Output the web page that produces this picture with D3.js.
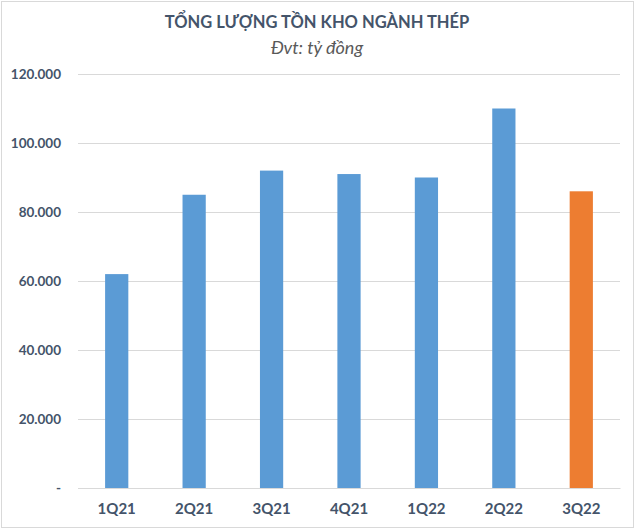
<!DOCTYPE html>
<html>
<head>
<meta charset="utf-8">
<script src="https://cdn.jsdelivr.net/npm/d3@7/dist/d3.min.js"></script>
<style>
  html, body { margin: 0; padding: 0; background: #fff; }
  svg { display: block; font-family: Lato, "Open Sans", sans-serif; }
</style>
</head>
<body>
<svg id="chart" width="635" height="529"></svg>
<script>
const quarters = ["1Q21", "2Q21", "3Q21", "4Q21", "1Q22", "2Q22", "3Q22"];
const inventory = [62000, 85000, 92000, 91000, 90000, 110000, 86000];
const highlightQuarter = "3Q22";
const yTicks = [0, 20000, 40000, 60000, 80000, 100000, 120000];

const width = 635;
const height = 529;
const margin = { top: 74, right: 15, bottom: 41, left: 78 };

const svg = d3.select("#chart");

svg.append("rect")
  .attr("x", 1.5).attr("y", 1.5)
  .attr("width", width - 3).attr("height", height - 3)
  .attr("fill", "#fff")
  .attr("stroke", "#d9d9d9");

svg.append("text")
  .attr("x", 317).attr("y", 28)
  .attr("text-anchor", "middle")
  .attr("font-size", 16.5).attr("font-weight", 700)
  .attr("fill", "#44546a")
  .text("TỔNG LƯỢNG TỒN KHO NGÀNH THÉP");

svg.append("text")
  .attr("x", 317).attr("y", 54)
  .attr("text-anchor", "middle")
  .attr("font-size", 18).attr("font-style", "italic")
  .attr("fill", "#595959")
  .text("Đvt: tỷ đồng");

const x = d3.scaleBand()
  .domain(quarters)
  .range([margin.left, width - margin.right])
  .paddingInner(0.7)
  .paddingOuter(0.35);

const y = d3.scaleLinear()
  .domain([0, 120000])
  .range([height - margin.bottom, margin.top]);

const fmt = (v) => v === 0 ? "-" : d3.format(",")(v).replace(/,/g, ".");

const yAxis = svg.append("g")
  .attr("transform", `translate(${margin.left},0)`)
  .call(d3.axisLeft(y).tickValues(yTicks).tickSize(-(width - margin.left - margin.right)).tickPadding(17).tickFormat(fmt));
yAxis.select(".domain").remove();
yAxis.selectAll(".tick line").attr("stroke", "#d9d9d9");
yAxis.selectAll(".tick text")
  .attr("fill", "#44546a")
  .attr("font-size", 13.5).attr("font-weight", 700)
  .attr("font-family", "Lato, 'Open Sans', sans-serif");

svg.append("g")
  .selectAll("rect")
  .data(quarters)
  .join("rect")
  .attr("x", (d) => x(d))
  .attr("width", x.bandwidth())
  .attr("y", (d, i) => y(inventory[i]))
  .attr("height", (d, i) => y(0) - y(inventory[i]))
  .attr("fill", (d) => d === highlightQuarter ? "#ed7d31" : "#5b9bd5");

const xAxis = svg.append("g")
  .attr("transform", `translate(0,${y(0)})`)
  .call(d3.axisBottom(x).tickSize(0).tickPadding(15));
xAxis.select(".domain").attr("stroke", "#d9d9d9");
xAxis.selectAll(".tick text")
  .attr("fill", "#44546a")
  .attr("font-size", 15).attr("font-weight", 700)
  .attr("font-family", "Lato, 'Open Sans', sans-serif");
</script>
</body>
</html>
